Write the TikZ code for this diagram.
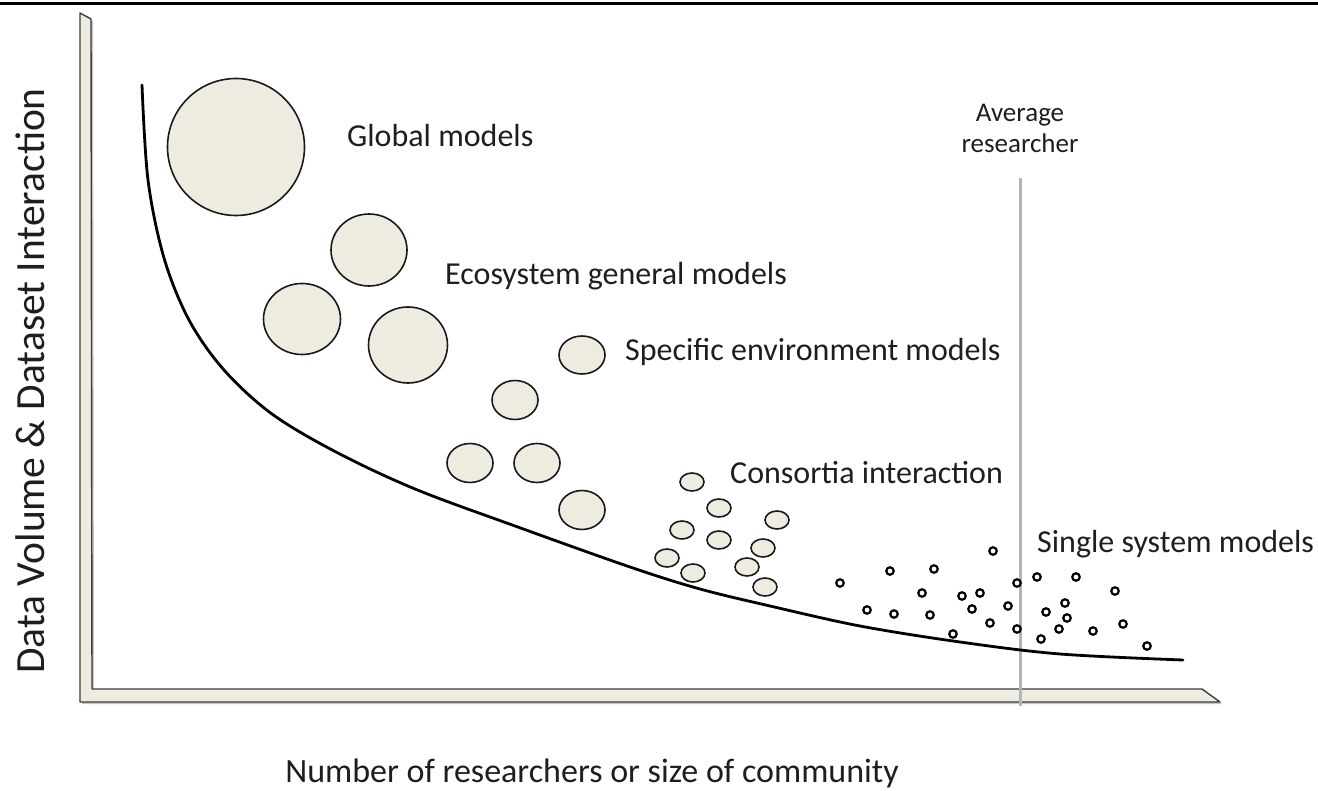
\documentclass[tikz,border=0pt]{standalone}
\usepackage{fontspec}
\setmainfont{Carlito}
\usetikzlibrary{shapes.geometric}
\definecolor{beige}{HTML}{EEEBE1}
\definecolor{edgegray}{HTML}{3C3C3C}
\definecolor{avgline}{HTML}{B4B4B4}
\definecolor{txt}{HTML}{1E1E1E}
\tikzset{
  bigc/.style={circle, draw=black!90, line width=1.6pt, fill=beige, inner sep=0pt},
  ell/.style={ellipse, draw=black!90, line width=1.6pt, fill=beige, inner sep=0pt},
  smallell/.style={ellipse, draw=black!90, line width=1.6pt, fill=beige, inner sep=0pt, minimum width=24pt, minimum height=18pt},
  dotc/.style={circle, draw=black, line width=2.2pt, fill=white, inner sep=0pt, minimum size=7.5pt},
  lbl/.style={font=\fontsize{32}{38}\selectfont, inner sep=0pt, anchor=base west, text=txt},
  avg/.style={font=\fontsize{27}{33}\selectfont, inner sep=0pt, anchor=base, text=txt},
}
\begin{document}
\begin{tikzpicture}[x=1pt, y=-1pt]
\useasboundingbox (0,0) rectangle (1318,791);
% top rule
\draw[line width=3pt] (0,4) -- (1318,4);
% axes (L-shaped bar)
\fill[gray!45] (82,15) -- (93,21) -- (94,690) -- (1204,690) -- (1222,704) -- (82,704) -- cycle;
\draw[edgegray, line width=1.4pt, fill=beige, line join=round]
  (80,13) -- (91,19) -- (92,689) -- (1202,689) -- (1220,702) -- (80,702) -- cycle;
% average researcher line
\coordinate (avgtop) at (1020,178);
\coordinate (avgbot) at (1020,706);
\draw[avgline, line width=3pt] (avgtop) -- (avgbot);
% curve
\coordinate (cstart) at (142,85);
\coordinate (cend) at (1183,660);
\draw[line width=2.8pt, line cap=round] plot[smooth, tension=0.55] coordinates {
  (cstart) (148,180) (164,258) (189,320) (224,370) (272,414) (336,452) (415,489)
  (515,526) (630,567) (700,589) (770,606) (860,626) (960,642) (1060,654) (cend)};
% global
\node[bigc, minimum size=137pt] (global) at (236,147) {};
% ecosystem
\node[ell, minimum width=76pt, minimum height=72pt] (eco1) at (369,250) {};
\node[ell, minimum width=77pt, minimum height=71pt] (eco2) at (302,319) {};
\node[ell, minimum width=79pt, minimum height=76pt] (eco3) at (408,345) {};
% specific
\node[ell, minimum width=46pt, minimum height=39pt] (sp1) at (515,400) {};
\node[ell, minimum width=46pt, minimum height=38pt] (sp2) at (582,355) {};
\node[ell, minimum width=46pt, minimum height=39pt] (sp3) at (470,463) {};
\node[ell, minimum width=46pt, minimum height=39pt] (sp4) at (537,463) {};
\node[ell, minimum width=46pt, minimum height=39pt] (sp5) at (582,510) {};
% consortia
\node[smallell] (co1) at (692,482) {};
\node[smallell] (co2) at (719,508) {};
\node[smallell] (co3) at (682,530) {};
\node[smallell] (co4) at (719,540) {};
\node[smallell] (co5) at (777,520) {};
\node[smallell] (co6) at (763,548) {};
\node[smallell] (co7) at (667,558) {};
\node[smallell] (co8) at (693,573) {};
\node[smallell] (co9) at (747,567) {};
\node[smallell] (co10) at (765,587) {};
% single system dots
\foreach \px/\py [count=\i] in {840/583, 890/571, 934/569, 993/551, 867/610, 894/614, 922/593,
  930/615, 962/596, 980/593, 972/609, 953/634, 990/623, 1008/606, 1017/583, 1017/629,
  1037/577, 1076/577, 1046/612, 1065/603, 1067/618, 1059/629, 1041/639, 1093/631,
  1115/591, 1123/624, 1147/646}
  \node[dotc] (d\i) at (\px,\py) {};
% labels
\node[lbl] (tglobal) at (347,147) {Global models};
\node[lbl] (teco) at (445,285) {Ecosystem general models};
\node[lbl] (tspec) at (625,361) {Specific environment models};
\node[lbl] (tcons) at (730,484) {Consortia interaction};
\node[lbl] (tsingle) at (1037,552) {Single system models};
\node[avg] (tavg1) at (1020,122) {Average};
\node[avg] (tavg2) at (1020,153) {researcher};
\node[font=\fontsize{34}{40}\selectfont, inner sep=0pt, anchor=base, text=txt] (xlabel) at (592,782) {Number of researchers or size of community};
\node[font=\fontsize{41.5}{48}\selectfont, inner sep=0pt, anchor=base, rotate=90, text=txt] (ylabel) at (44,381) {Data Volume \& Dataset Interaction};
\end{tikzpicture}
\end{document}
